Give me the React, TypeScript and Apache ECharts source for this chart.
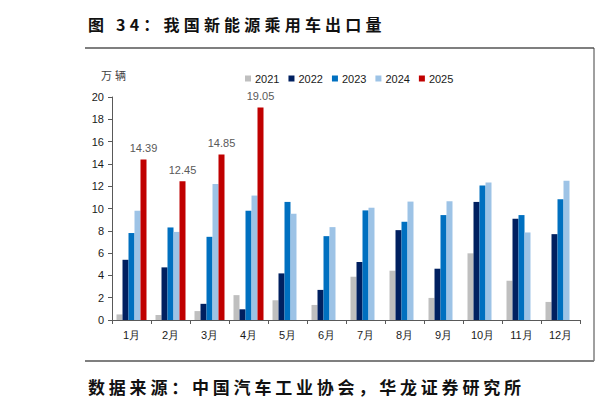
import React, { useEffect, useRef } from "react";
import * as echarts from "echarts";

const months = ["1月", "2月", "3月", "4月", "5月", "6月", "7月", "8月", "9月", "10月", "11月", "12月"];
const years = ["2021", "2022", "2023", "2024", "2025"];
const colors = ["#BFBFBF", "#002060", "#0070C0", "#9DC3E6", "#C00000"];

const v2021 = [0.5, 0.45, 0.8, 2.23, 1.77, 1.35, 3.88, 4.42, 1.98, 5.98, 3.52, 1.62];
const v2022 = [5.4, 4.72, 1.45, 0.96, 4.18, 2.7, 5.2, 8.06, 4.6, 10.59, 9.08, 7.7];
const v2023 = [7.8, 8.3, 7.46, 9.8, 10.59, 7.52, 9.83, 8.81, 9.41, 12.06, 9.41, 10.83];
const v2024 = [9.8, 7.9, 12.2, 11.16, 9.53, 8.33, 10.07, 10.62, 10.65, 12.33, 7.85, 12.5];
const v2025 = [14.39, 12.45, 14.85, 19.05, null, null, null, null, null, null, null, null];

const title = "图 34：我国新能源乘用车出口量";
const source = "数据来源：中国汽车工业协会，华龙证券研究所";

const NUM_FONT = "'Liberation Sans', Arial, sans-serif";
const CJK_FONT = "'Noto Sans CJK SC', sans-serif";

const App = () => {
  const chartRef = useRef<HTMLDivElement>(null);

  useEffect(() => {
    if (!chartRef.current) return;
    document.body.style.margin = "0";

    const chart = echarts.init(chartRef.current, null, { renderer: "svg" });
    const allValues = [v2021, v2022, v2023, v2024, v2025];

    const option: echarts.EChartsOption = {
      animation: false,
      backgroundColor: "#ffffff",
      grid: { left: 112, right: 19, top: 97, bottom: 86 },
      legend: {
        data: years,
        left: 240,
        top: 68,
        itemWidth: 6,
        itemHeight: 6,
        itemGap: 9,
        icon: "rect",
        textStyle: { fontSize: 11, color: "#1a1a1a", fontFamily: NUM_FONT, padding: [0, 0, 0, -1] },
      },
      xAxis: {
        type: "category",
        data: months,
        axisLine: { lineStyle: { color: "#595959", width: 1 } },
        axisTick: { show: true, length: 4, lineStyle: { color: "#595959" } },
        axisLabel: { fontSize: 11, color: "#1a1a1a", margin: 9, fontFamily: NUM_FONT },
      },
      yAxis: {
        type: "value",
        min: 0,
        max: 20,
        interval: 2,
        splitLine: { show: false },
        axisLine: { show: true, lineStyle: { color: "#595959", width: 1 } },
        axisTick: { show: true, length: 4, lineStyle: { color: "#595959" } },
        axisLabel: { fontSize: 11, color: "#1a1a1a", margin: 8, fontFamily: NUM_FONT },
      },
      series: years.map((y, i) => ({
        name: y,
        type: "bar",
        data: allValues[i],
        barWidth: 6,
        barGap: "0%",
        itemStyle: { color: colors[i] },
        label:
          i === 4
            ? {
                show: true,
                position: "top",
                distance: 6,
                fontSize: 11,
                color: "#595959",
                fontFamily: NUM_FONT,
                formatter: (p: any) => (p.value == null ? "" : Number(p.value).toFixed(2)),
              }
            : { show: false },
      })),
      graphic: [
        {
          type: "text",
          left: 88,
          top: 16,
          style: { text: title, fill: "#111", font: `bold 16px ${CJK_FONT}` },
        },
        {
          type: "line",
          shape: { x1: 85, y1: 48, x2: 594, y2: 48 },
          style: { stroke: "#7f7f7f", lineWidth: 2 },
        },
        {
          type: "line",
          shape: { x1: 594, y1: 48, x2: 594, y2: 361 },
          style: { stroke: "#404040", lineWidth: 1 },
        },
        {
          type: "line",
          shape: { x1: 85, y1: 361, x2: 594, y2: 361 },
          style: { stroke: "#7f7f7f", lineWidth: 2 },
        },
        {
          type: "text",
          left: 101,
          top: 69,
          style: { text: "万辆", fill: "#404040", font: `11px ${CJK_FONT}` },
        },
        {
          type: "text",
          left: 88,
          top: 378,
          style: { text: source, fill: "#111", font: `bold 17px ${CJK_FONT}` },
        },
      ],
    };

    chart.setOption(option);

    // zrender has no letter spacing, so widen the caption texts in the svg
    const spaceTexts = () => {
      const root = chartRef.current;
      if (!root) return;
      root.querySelectorAll("text").forEach((t) => {
        const s = t.textContent || "";
        const el = t as SVGTextElement;
        if (s.startsWith("图")) el.style.letterSpacing = "4.2px";
        else if (s.startsWith("数据来源")) el.style.letterSpacing = "3.8px";
        else if (s === "万辆") el.style.letterSpacing = "3px";
      });
    };
    spaceTexts();
    chart.on("finished", spaceTexts);

    return () => {
      chart.dispose();
    };
  }, []);

  return <div ref={chartRef} style={{ width: "599px", height: "406px" }} />;
};

export default App;
